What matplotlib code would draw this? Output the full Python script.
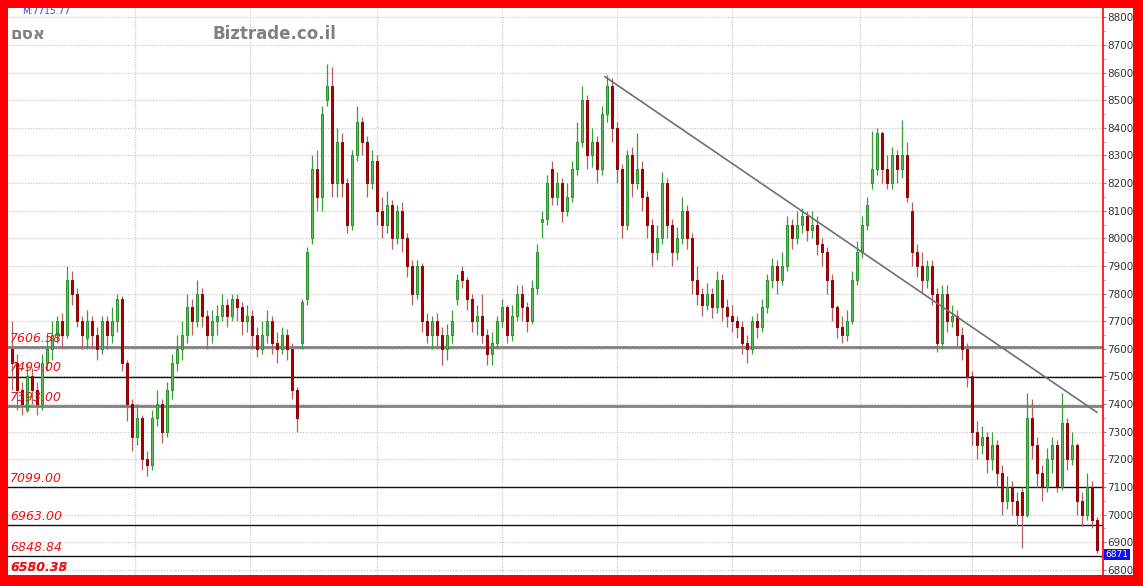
import numpy as np
import matplotlib
matplotlib.use("Agg")
import matplotlib.pyplot as plt
from matplotlib.patches import Rectangle

# --- data (daily candles) ---
opens = [7600, 7550, 7450, 7380, 7500, 7450, 7400, 7550, 7600, 7650,
         7700, 7650, 7850, 7800, 7700, 7640, 7700, 7650, 7600, 7700,
         7650, 7700, 7780, 7550, 7400, 7280, 7350, 7200, 7180, 7350,
         7400, 7300, 7450, 7550, 7600, 7650, 7750, 7700, 7800, 7720,
         7650, 7700, 7720, 7760, 7720, 7780, 7750, 7700, 7720, 7650,
         7600, 7650, 7700, 7620, 7600, 7650, 7600, 7450, 7620, 7780,
         8000, 8250, 8150, 8500, 8550, 8200, 8350, 8200, 8050, 8300,
         8420, 8350, 8200, 8280, 8100, 8050, 8120, 8000, 8100, 8000,
         7900, 7800, 7900, 7700, 7650, 7700, 7650, 7600, 7650, 7780,
         7880, 7850, 7780, 7700, 7720, 7650, 7580, 7620, 7700, 7750,
         7650, 7720, 7800, 7750, 7700, 7820, 8060, 8070, 8250, 8150,
         8200, 8100, 8150, 8250, 8350, 8500, 8300, 8350, 8250, 8450,
         8550, 8400, 8250, 8050, 8300, 8200, 8250, 8150, 8050, 7950,
         8000, 8200, 8050, 7950, 8000, 8100, 8000, 7850, 7800, 7760,
         7800, 7750, 7850, 7750, 7720, 7700, 7680, 7620, 7600, 7700,
         7680, 7750, 7850, 7900, 7850, 7900, 8050, 8000, 8050, 8080,
         8030, 8050, 7980, 7950, 7850, 7750, 7680, 7650, 7700, 7850,
         7950, 8050, 8200, 8250, 8380, 8250, 8200, 8300, 8250, 8300,
         8100, 7950, 7900, 7850, 7900, 7800, 7620, 7800, 7700, 7720,
         7650, 7600, 7500, 7300, 7250, 7280, 7200, 7250, 7150, 7050,
         7100, 7050, 7080, 7000, 7350, 7250, 7150, 7100, 7200, 7250,
         7100, 7330, 7200, 7250, 7050, 7000, 7100, 6980]
closes = [7550, 7450, 7400, 7500, 7450, 7400, 7550, 7600, 7650, 7700,
          7650, 7850, 7800, 7700, 7650, 7700, 7650, 7600, 7700, 7650,
          7700, 7780, 7550, 7400, 7280, 7350, 7200, 7180, 7350, 7400,
          7300, 7450, 7550, 7600, 7650, 7750, 7700, 7800, 7720, 7650,
          7700, 7720, 7760, 7720, 7780, 7750, 7700, 7720, 7650, 7600,
          7650, 7700, 7620, 7600, 7650, 7600, 7450, 7350, 7770, 7950,
          8250, 8150, 8450, 8550, 8200, 8350, 8200, 8050, 8300, 8420,
          8350, 8200, 8280, 8100, 8050, 8120, 8000, 8100, 8000, 7900,
          7800, 7900, 7700, 7650, 7700, 7650, 7600, 7650, 7700, 7850,
          7850, 7780, 7700, 7720, 7650, 7580, 7620, 7700, 7750, 7650,
          7720, 7800, 7750, 7700, 7820, 7950, 8070, 8200, 8150, 8200,
          8100, 8150, 8250, 8350, 8500, 8300, 8350, 8250, 8450, 8550,
          8400, 8250, 8050, 8300, 8200, 8250, 8150, 8050, 7950, 8000,
          8200, 8050, 7950, 8000, 8100, 8000, 7850, 7800, 7760, 7800,
          7750, 7850, 7750, 7720, 7700, 7680, 7620, 7600, 7700, 7680,
          7750, 7850, 7900, 7850, 7900, 8050, 8000, 8050, 8080, 8030,
          8050, 7980, 7950, 7850, 7750, 7680, 7650, 7700, 7850, 7950,
          8050, 8120, 8250, 8380, 8250, 8200, 8300, 8250, 8300, 8150,
          7950, 7900, 7850, 7900, 7800, 7620, 7800, 7700, 7720, 7650,
          7600, 7500, 7300, 7250, 7280, 7200, 7250, 7150, 7050, 7100,
          7050, 7000, 7000, 7350, 7250, 7150, 7100, 7200, 7250, 7100,
          7330, 7200, 7250, 7050, 7000, 7100, 6980, 6871]
highs = [7700, 7580, 7480, 7550, 7530, 7480, 7580, 7650, 7700, 7720,
         7730, 7900, 7880, 7820, 7720, 7740, 7720, 7680, 7720, 7720,
         7750, 7800, 7790, 7560, 7420, 7400, 7360, 7230, 7380, 7450,
         7420, 7480, 7580, 7650, 7700, 7800, 7780, 7850, 7820, 7740,
         7740, 7760, 7800, 7780, 7800, 7800, 7770, 7760, 7740, 7680,
         7700, 7740, 7720, 7660, 7680, 7670, 7620, 7460, 7780, 7970,
         8300, 8320, 8480, 8630, 8620, 8400, 8380, 8220, 8320, 8480,
         8440, 8370, 8320, 8300, 8150, 8170, 8140, 8120, 8130, 8020,
         7920, 7920, 7910, 7730, 7720, 7730, 7680, 7690, 7740, 7870,
         7900, 7860, 7800, 7760, 7800, 7670, 7660, 7720, 7780, 7760,
         7760, 7830, 7830, 7770, 7850, 7980, 8100, 8230, 8280, 8240,
         8220, 8200, 8280, 8420, 8550, 8520, 8400, 8370, 8480, 8590,
         8580, 8420, 8270, 8320, 8330, 8380, 8280, 8170, 8070, 8050,
         8240, 8220, 8070, 8040, 8150, 8120, 8020, 7900, 7820, 7840,
         7820, 7880, 7870, 7780, 7760, 7720, 7700, 7650, 7720, 7730,
         7780, 7870, 7930, 7920, 7950, 8080, 8070, 8100, 8110, 8100,
         8100, 8080, 8000, 7970, 7870, 7760, 7720, 7740, 7880, 7990,
         8080, 8150, 8390, 8400, 8390, 8300, 8330, 8320, 8430, 8350,
         8130, 7980, 7950, 7920, 7920, 7820, 7830, 7830, 7760, 7740,
         7680, 7620, 7520, 7340, 7320, 7300, 7300, 7270, 7180, 7140,
         7120, 7080, 7100, 7440, 7420, 7280, 7180, 7240, 7280, 7270,
         7440, 7350, 7300, 7260, 7080, 7150, 7120, 6990]
lows = [7450, 7380, 7360, 7370, 7400, 7360, 7380, 7520, 7560, 7620,
        7600, 7640, 7760, 7680, 7600, 7600, 7600, 7560, 7580, 7600,
        7620, 7660, 7520, 7340, 7230, 7250, 7160, 7140, 7160, 7320,
        7260, 7280, 7420, 7520, 7560, 7620, 7650, 7680, 7680, 7600,
        7620, 7650, 7700, 7680, 7700, 7700, 7650, 7660, 7600, 7570,
        7580, 7620, 7580, 7550, 7580, 7560, 7420, 7300, 7600, 7760,
        7980, 8100, 8100, 8480, 8150, 8150, 8150, 8020, 8030, 8280,
        8300, 8150, 8180, 8050, 8000, 8020, 7960, 7980, 7950, 7860,
        7760, 7780, 7660, 7620, 7600, 7600, 7540, 7560, 7620, 7760,
        7820, 7740, 7660, 7650, 7620, 7540, 7540, 7600, 7680, 7620,
        7630, 7700, 7700, 7660, 7690, 7800, 8000, 8050, 8120, 8120,
        8060, 8080, 8130, 8230, 8330, 8250, 8260, 8200, 8230, 8420,
        8350, 8200, 8000, 8030, 8150, 8180, 8100, 8000, 7900, 7920,
        7980, 8000, 7900, 7920, 7980, 7960, 7800, 7760, 7720, 7740,
        7710, 7730, 7700, 7680, 7660, 7640, 7580, 7550, 7580, 7640,
        7660, 7730, 7820, 7800, 7830, 7880, 7960, 7980, 8020, 7990,
        8000, 7940, 7900, 7800, 7700, 7640, 7620, 7630, 7690, 7830,
        7930, 8030, 8180, 8230, 8200, 8180, 8180, 8200, 8220, 8130,
        7900, 7860, 7800, 7820, 7760, 7590, 7600, 7660, 7680, 7610,
        7560, 7460, 7250, 7200, 7220, 7150, 7160, 7100, 7000, 7020,
        7000, 6960, 6880, 6990, 7200, 7100, 7050, 7080, 7150, 7080,
        7090, 7160, 7180, 7000, 6960, 6980, 6950, 6860]

# support / resistance levels drawn on the chart
levels = [7606.58, 7499.00, 7393.00, 7099.00, 6963.00, 6848.84]
level_heavy = [True, False, True, False, False, False]
bottom_labels = ["6550.35", "6580.38"]

# trendline (candle index, price)
trend_x = [118.6, 217]
trend_y = [8585, 7370]

# month separators (candle index)
month_lines = [24.6, 47.6, 73, 98, 121, 144, 169.6, 192]

last_price = 6871
title_name = "םסא"   # "אסם" drawn in visual order
site = "Biztrade.co.il"
avg_text = "M:7715.77"

# --- figure ---
W, H = 1143, 586
fig = plt.figure(figsize=(W / 100, H / 100), dpi=100, facecolor="#ff0000")
fig.patches.append(Rectangle((8 / W, (H - 575) / H), (1133 - 8) / W, (575 - 8) / H,
                             transform=fig.transFigure, facecolor="white",
                             edgecolor="none", zorder=-10))

ax = fig.add_axes([8 / W, (H - 575) / H, (1103 - 8) / W, (575 - 8) / H])
ax.set_facecolor("white")

n = len(closes)
x = np.arange(n)
pitch = 5.0
x0 = 12.0
ax.set_xlim(-(x0 - 8) / pitch, (1103 - x0) / pitch)
ax.set_ylim(6781, 8834)

# grid
for p in range(6800, 8900, 100):
    ax.axhline(p, color="#c0c0c0", lw=0.8, ls=(0, (1, 1.5)), zorder=1)
for m in month_lines:
    ax.axvline(m, color="#cccccc", lw=0.9, ls=(0, (1, 1)), zorder=1)

# levels
for lv, heavy in zip(levels, level_heavy):
    if heavy:
        ax.axhline(lv, color="#808080", lw=2.0, zorder=2)
    else:
        ax.axhline(lv, color="#111111", lw=1.0, zorder=2)
    ax.text(0.002, lv + 8, f"{lv:.2f}", transform=ax.get_yaxis_transform(),
            color="#ee1111", fontsize=9, style="italic", va="bottom", ha="left",
            zorder=6)
for lab in bottom_labels:
    ax.text(0.002, 6786, lab, transform=ax.get_yaxis_transform(),
            color="#ee1111", fontsize=9, style="italic", fontweight="bold",
            va="bottom", ha="left", zorder=6, alpha=0.85)

# candles
w = 0.55
for i in range(n):
    o, c, h, l = opens[i], closes[i], highs[i], lows[i]
    if c >= o:
        wick, face, edge = "#36a036", "#5fbf5f", "#2a8f2a"
    else:
        wick, face, edge = "#b06060", "#b00000", "#8c0000"
    ax.vlines(x[i], l, h, color=wick, lw=0.9, zorder=3)
    body = max(abs(c - o), 6)
    ax.add_patch(Rectangle((x[i] - w / 2, min(o, c)), w, body,
                           facecolor=face, edgecolor=edge, lw=0.7, zorder=4))

# trendline
ax.plot(trend_x, trend_y, color="#707070", lw=1.2, zorder=5)

# right axis
for s in ["left", "top", "bottom"]:
    ax.spines[s].set_visible(False)
ax.spines["right"].set_color("#ff0000")
ax.spines["right"].set_linewidth(1.2)
ax.yaxis.tick_right()
ax.set_yticks(range(6800, 8900, 100))
ax.set_yticks(range(6850, 8850, 100), minor=True)
ax.tick_params(axis="y", which="major", length=2.5, color="#888888",
               labelsize=7.5, labelcolor="#333333", pad=0.5)
ax.tick_params(axis="y", which="minor", length=1.5, color="#888888")
ax.set_xticks([])

# last price box (sits just under the 6900 label, as in the original)
ax.text(1.002, 6855, f"{last_price}", transform=ax.get_yaxis_transform(),
        color="white", fontsize=6.5, va="center", ha="left", zorder=7,
        bbox=dict(boxstyle="square,pad=0.15", facecolor="#1010ee", edgecolor="none"),
        clip_on=False)

# header texts
fig.text(22 / W, 1 - 12 / H, avg_text, color="#3333ff", fontsize=6.5,
         va="center", ha="left")
fig.text(10 / W, 1 - 34 / H, title_name, color="#808080", fontsize=12,
         fontweight="bold", va="center", ha="left")
fig.text(212 / W, 1 - 34 / H, site, color="#808080", fontsize=12,
         fontweight="bold", va="center", ha="left")

fig.savefig("out.png", dpi=100, facecolor=fig.get_facecolor())
